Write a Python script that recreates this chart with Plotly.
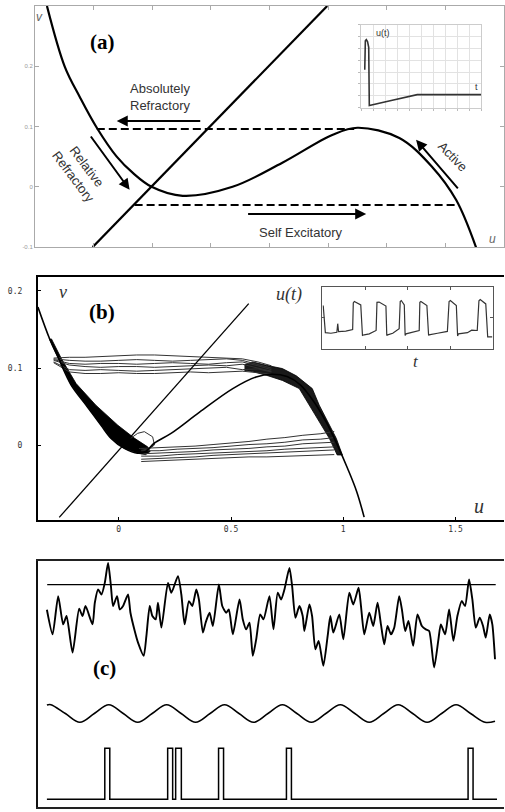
import plotly.graph_objects as go

W, H = 505, 812

# ---------------- Panel (a) data : FitzHugh-Nagumo schematic ----------------
a_cubic_u = [-0.359, -0.298, -0.247, -0.189, -0.121, -0.066, -0.002, 0.104, 0.274, 0.444, 0.614, 0.70, 0.843, 0.955, 1.037, 1.105]
a_cubic_v = [0.300, 0.199, 0.149, 0.098, 0.050, 0.023, 0.0, -0.015, 0.0, 0.040, 0.086, 0.098, 0.081, 0.033, -0.022, -0.101]
a_line_u = [-0.203, 0.597]
a_line_v = [-0.1, 0.3]
a_dash_hi_u = [-0.189, 0.689]
a_dash_hi_v = [0.096, 0.096]
a_dash_lo_u = [-0.06, 1.037]
a_dash_lo_v = [-0.030, -0.030]
a_yticks = [-0.1, 0, 0.1, 0.2]
a_ytick_text = ["-0.1", "0", "0.1", "0.2"]
a_xticks = [-0.2, 0, 0.2, 0.4, 0.6, 0.8, 1.0]

# inset (a): single action potential
ia_t = [0.29, 0.29, 0.34, 0.42, 0.52, 0.62, 0.67, 2.5, 4.17, 4.67, 10]
ia_u = [3.2, 5.3, 5.65, 5.75, 5.6, 5.1, 0.17, 0.6, 1.0, 1.1, 1.1]

# ---------------- Panel (b) data : noisy phase portrait ----------------
b_cub_u = [-0.36, -0.308, -0.271, -0.212, -0.145, -0.079, -0.034, 0.025, 0.084, 0.12, 0.159, 0.233, 0.36, 0.508, 0.612, 0.68, 0.75, 0.81, 0.87, 0.923, 0.967, 1.019, 1.06, 1.093]
b_cub_v = [0.179, 0.138, 0.1145, 0.078, 0.052, 0.026, 0.009, -0.004, -0.0103, -0.008, 0.003, 0.0155, 0.043, 0.0735, 0.0886, 0.092, 0.089, 0.078, 0.056, 0.0306, 0.0048, -0.0297, -0.06, -0.093]
b_line_u = [-0.265, 0.579]
b_line_v = [-0.0933, 0.1835]

# dense noisy bands along the stable branches
lb_u = [-0.31, -0.271, -0.212, -0.145, -0.079, -0.034, 0.025, 0.084, 0.12, 0.14, 0.129, 0.071, -0.004, -0.102, -0.19, -0.255, -0.30]
lb_v = [0.138, 0.1145, 0.078, 0.052, 0.026, 0.009, -0.004, -0.0103, -0.012, -0.008, -0.002, 0.009, 0.026, 0.052, 0.08, 0.112, 0.138]
rb_u = [0.56, 0.596, 0.658, 0.729, 0.791, 0.862, 0.893, 0.929, 0.969, 0.996, 0.973, 0.938, 0.893, 0.849, 0.804, 0.729, 0.658, 0.596, 0.56]
rb_v = [0.1045, 0.108, 0.1036, 0.0994, 0.090, 0.0735, 0.052, 0.031, 0.009, -0.0125, -0.0125, 0.009, 0.031, 0.052, 0.0735, 0.084, 0.0907, 0.0955, 0.097]

# upper (refractory) excursions
up_u = [-0.29, -0.22, -0.15, -0.08, 0.0, 0.08, 0.16, 0.24, 0.32, 0.40, 0.48, 0.55, 0.62, 0.68]
up_v1 = [0.113, 0.114, 0.114, 0.115, 0.116, 0.117, 0.117, 0.116, 0.115, 0.114, 0.113, 0.112, 0.108, 0.103]
up_v2 = [0.112, 0.110, 0.109, 0.109, 0.110, 0.111, 0.110, 0.109, 0.110, 0.111, 0.112, 0.110, 0.105, 0.100]
up_v3 = [0.111, 0.106, 0.105, 0.106, 0.106, 0.105, 0.106, 0.107, 0.106, 0.105, 0.107, 0.108, 0.103, 0.098]
up_v4 = [0.110, 0.104, 0.102, 0.101, 0.102, 0.102, 0.101, 0.102, 0.103, 0.104, 0.103, 0.105, 0.100, 0.096]
up_v5 = [0.108, 0.098, 0.097, 0.098, 0.097, 0.096, 0.097, 0.098, 0.099, 0.100, 0.101, 0.098, 0.099, 0.095]
up_v6 = [0.107, 0.095, 0.093, 0.093, 0.094, 0.093, 0.093, 0.094, 0.095, 0.094, 0.095, 0.096, 0.094, 0.092]

# lower (excitatory) excursions
lo_u = [0.10, 0.18, 0.26, 0.34, 0.42, 0.50, 0.58, 0.66, 0.74, 0.82, 0.90, 0.96]
lo_v1 = [-0.004, -0.003, -0.002, -0.001, 0.001, 0.003, 0.005, 0.008, 0.010, 0.013, 0.015, 0.018]
lo_v2 = [-0.007, -0.007, -0.005, -0.004, -0.003, -0.001, 0.001, 0.002, 0.004, 0.007, 0.008, 0.010]
lo_v3 = [-0.011, -0.010, -0.009, -0.008, -0.006, -0.005, -0.004, -0.002, -0.001, 0.002, 0.003, 0.004]
lo_v4 = [-0.014, -0.014, -0.012, -0.011, -0.010, -0.009, -0.008, -0.007, -0.005, -0.004, -0.003, -0.002]
lo_v5 = [-0.018, -0.017, -0.016, -0.015, -0.013, -0.012, -0.011, -0.010, -0.009, -0.008, -0.007, -0.006]
lo_v6 = [-0.021, -0.020, -0.019, -0.018, -0.017, -0.016, -0.015, -0.015, -0.014, -0.013, -0.012, -0.012]

loop_u = [0.053, 0.084, 0.114, 0.151, 0.159, 0.129, 0.09]
loop_v = [0.009, 0.0155, 0.0177, 0.011, 0.0004, -0.006, -0.004]

b_xticks = [0, 0.5, 1, 1.5]
b_xtick_text = ["0", "0.5", "1", "1.5"]
b_yticks = [0, 0.1, 0.2]
b_ytick_text = ["0", "0.1", "0.2"]

# inset (b): spike train u(t)
ib_t = [0.02, 0.07, 0.20, 0.34, 0.36, 0.38, 0.55, 0.71, 0.725, 0.75, 0.90, 0.94, 0.98, 1.10, 1.26, 1.28, 1.33, 1.49, 1.51, 1.53,
        1.65, 1.80, 1.825, 1.85, 1.92, 1.94, 1.96, 2.10, 2.27, 2.285, 2.31, 2.45, 2.49, 2.50, 2.70, 2.93, 2.97, 3.00, 3.14, 3.17,
        3.19, 3.40, 3.50, 3.63, 3.67, 3.70, 3.83, 3.875, 3.98]
ib_u = [1.40, 0.52, 0.50, 0.53, 0.81, 0.55, 0.57, 0.62, 1.48, 1.53, 1.42, 0.43, 0.45, 0.48, 0.59, 1.50, 1.51, 1.38, 0.43, 0.45,
        0.50, 0.645, 1.53, 1.56, 1.42, 0.43, 0.48, 0.52, 0.59, 1.50, 1.53, 1.40, 0.43, 0.45, 0.50, 0.56, 1.53, 1.56, 1.40, 0.41,
        0.48, 0.52, 0.60, 0.59, 1.55, 1.59, 1.45, 0.38, 0.38]

# ---------------- Panel (c) data : stochastic resonance ----------------
sig_t = [0, 5.7, 11.3, 16.3, 19.7, 25.7, 32.3, 35.7, 38.7, 45.7, 48, 51.3, 54.7, 58, 61.3, 64, 66.3, 70.3, 73, 76.3,
         81.3, 83.7, 88, 91.3, 97, 99.7, 103, 105.7, 109, 111.3, 114.7, 121.3, 124.7, 131.3, 134.7, 138, 142.3, 145.7, 149.7, 152.3,
         156.3, 159, 163, 166.3, 172.3, 175.7, 179.7, 182.3, 186.3, 193, 196.3, 199.7, 203, 206.3, 209.7, 213.7, 217, 223,
         227, 231.3, 234.7, 238, 243, 245.7, 249, 253, 256.3, 258, 263, 265.7, 269, 272.3, 277, 281.3, 284, 287, 293, 297,
         303, 307, 312.3, 314.7, 318, 323, 327, 331.3, 334.7, 338, 341.3, 344.7, 348, 353, 355.7, 359, 362.3, 367, 371.3,
         375.7, 379.7, 383, 388, 392.3, 394.7, 399, 403, 407.3, 411.3, 415.7, 419, 423, 426.3, 429.7, 433.7, 437, 439.7,
         443.7, 446.3, 449]
sig_y = [19.8, 17.33, 21.17, 18.33, 19.17, 15.5, 19.9, 19.17, 20.17, 18.33, 20.5, 21.83, 21.33, 22.5, 24.5, 22.33, 20.17, 21.17, 19.83, 20.17,
         21.33, 19.5, 17.67, 16.5, 15.17, 17.17, 20.17, 19.17, 18.83, 20.5, 18.0, 22.5, 21.5, 23.17, 21.33, 18.33, 20.67, 20.17, 21.83, 20.83,
         17.5, 18.5, 19.5, 18.17, 22.33, 20.17, 19.5, 19.83, 17.33, 20.83, 18.83, 17.83, 18.5, 15.17, 16.83, 19.33, 18.83, 21.17,
         17.83, 21.5, 20.83, 21.83, 24.0, 22.17, 19.0, 20.17, 19.17, 17.67, 20.33, 19.17, 15.83, 16.67, 14.17, 17.17, 19.17, 17.5, 19.33, 16.83,
         21.5, 20.33, 22.0, 20.17, 17.33, 19.5, 18.17, 20.5, 18.33, 16.33, 18.17, 17.33, 18.0, 21.17, 19.83, 17.67, 18.67, 16.17, 19.33,
         18.17, 17.83, 17.67, 14.0, 16.83, 18.33, 17.33, 19.83, 16.67, 19.17, 20.67, 20.17, 22.83, 20.83, 18.0, 19.0, 18.17, 17.0,
         19.33, 18.33, 14.83]
thr_t = [0.3, 449.7]
thr_y = [22.33, 22.33]

sine_t = [0, 4, 18.5, 33, 47.5, 62, 76.5, 91, 105.5, 120, 134.5, 149, 163.5, 178, 192.5, 207, 221.5, 236, 250.5, 265,
          279.5, 294, 308.5, 323, 337.5, 352, 366.5, 381, 395.5, 410, 424.5, 439, 449]
sine_y = [10.24, 10.27, 9.38, 8.5, 9.38, 10.27, 9.38, 8.5, 9.38, 10.27, 9.38, 8.5, 9.38, 10.27, 9.38, 8.5, 9.38, 10.27, 9.38, 8.5,
          9.38, 10.27, 9.38, 8.5, 9.38, 10.27, 9.38, 8.5, 9.38, 10.27, 9.38, 8.5, 8.6]

spike_on = [58, 121, 129, 172, 240, 422]
spike_off = [63, 126, 134.7, 177, 245, 427]
spike_base = 0.77
spike_top = 5.9
train_start, train_end = 0, 451

# build the spike-train polyline from the spike times
sp_t, sp_y = [train_start], [spike_base]
for on, off in zip(spike_on, spike_off):
    sp_t += [on, on, off, off]
    sp_y += [spike_base, spike_top, spike_top, spike_base]
sp_t.append(train_end)
sp_y.append(spike_base)

# ---------------- Figure ----------------
fig = go.Figure()


def add(x, y, xa, ya, color="black", width=2, dash=None, shape="linear", fill=None, fillcolor=None, smoothing=None):
    line = dict(color=color, width=width, dash=dash, shape=shape)
    if smoothing is not None:
        line["smoothing"] = smoothing
    fig.add_trace(go.Scatter(
        x=x, y=y, xaxis=xa, yaxis=ya, mode="lines", showlegend=False, hoverinfo="skip",
        line=line, fill=fill, fillcolor=fillcolor))


# panel (a)
add(a_cubic_u, a_cubic_v, "x", "y", width=2.2, shape="spline")
add(a_line_u, a_line_v, "x", "y", width=2.2)
add(a_dash_hi_u, a_dash_hi_v, "x", "y", width=2, dash="8px,4px")
add(a_dash_lo_u, a_dash_lo_v, "x", "y", width=2, dash="8px,4px")
add(ia_t, ia_u, "x2", "y2", color="#333", width=1.6)

# panel (b)
add(lb_u, lb_v, "x3", "y3", width=0.8, fill="toself", fillcolor="black")
add(rb_u, rb_v, "x3", "y3", width=0.8, fill="toself", fillcolor="rgba(0,0,0,0.9)")
for vv in [up_v1, up_v2, up_v3, up_v4, up_v5, up_v6]:
    add(up_u, vv, "x3", "y3", color="#333", width=1)
for vv in [lo_v1, lo_v2, lo_v3, lo_v4, lo_v5, lo_v6]:
    add(lo_u, vv, "x3", "y3", color="#333", width=1)
add(loop_u, loop_v, "x3", "y3", color="#333", width=1)
add(b_cub_u, b_cub_v, "x3", "y3", width=1.6, shape="spline")
add(b_line_u, b_line_v, "x3", "y3", width=1.3)
add(ib_t, ib_u, "x4", "y4", color="#333", width=1.2)

# panel (c)
add(sig_t, sig_y, "x5", "y5", width=1.9, shape="spline", smoothing=0.6)
add(thr_t, thr_y, "x5", "y5", width=1.2)
add(sine_t, sine_y, "x5", "y5", width=1.6, shape="spline")
add(sp_t, sp_y, "x5", "y5", width=1.5)


def px(a, b):
    return [a / W, b / W]


def py(top, bottom):
    return [1 - bottom / H, 1 - top / H]


GRAYTXT = "#333"
base_axis = dict(showgrid=False, zeroline=False, fixedrange=True)

layout = dict(
    width=W, height=H, margin=dict(l=0, r=0, t=0, b=0), autosize=False,
    paper_bgcolor="white", plot_bgcolor="white",
    # panel (a)
    xaxis=dict(base_axis, domain=px(35, 505), range=[-0.4, 1.2], anchor="y",
               showline=True, linecolor="#aaa", linewidth=1, mirror="ticks",
               ticks="inside", ticklen=4, tickcolor="#aaa", tickvals=a_xticks, showticklabels=False),
    yaxis=dict(base_axis, domain=py(6, 248), range=[-0.1, 0.3], anchor="x",
               showline=True, linecolor="#aaa", linewidth=1, mirror="ticks",
               ticks="inside", ticklen=4, tickcolor="#aaa", tickvals=a_yticks, ticktext=a_ytick_text,
               tickfont=dict(family="Liberation Sans", size=6, color="#999")),
    # inset (a)
    xaxis2=dict(base_axis, domain=px(362, 482), range=[0, 10], anchor="y2",
                showgrid=True, gridcolor="#e2e2e2", gridwidth=1, dtick=1, tick0=0,
                showline=True, linecolor="#ccc", mirror=True, ticks="outside", ticklen=2,
                tickcolor="#bbb", showticklabels=False),
    yaxis2=dict(base_axis, domain=py(25, 108), range=[0, 7], anchor="x2",
                showgrid=True, gridcolor="#e2e2e2", gridwidth=1, dtick=1, tick0=0,
                showline=True, linecolor="#ccc", mirror=True, ticks="outside", ticklen=2,
                tickcolor="#bbb", showticklabels=False),
    # panel (b)
    xaxis3=dict(base_axis, domain=px(38, 505), range=[-0.36, 1.716], anchor="y3",
                showline=True, linecolor="black", linewidth=2, mirror=True,
                ticks="inside", ticklen=3, tickcolor="black", tickvals=b_xticks, ticktext=b_xtick_text,
                tickfont=dict(family="DejaVu Sans Mono", size=8, color=GRAYTXT)),
    yaxis3=dict(base_axis, domain=py(278, 522), range=[-0.0968, 0.218], anchor="x3",
                showline=True, linecolor="black", linewidth=2,
                ticks="inside", ticklen=3, tickcolor="black", tickvals=b_yticks, ticktext=b_ytick_text,
                ticklabelstandoff=12,
                tickfont=dict(family="DejaVu Sans Mono", size=8, color=GRAYTXT)),
    # inset (b)
    xaxis4=dict(base_axis, domain=px(323, 494), range=[0, 4], anchor="y4",
                showline=True, linecolor="#555", linewidth=1, mirror="allticks",
                ticks="inside", ticklen=3, tickcolor="#555", tickvals=[1, 2, 3], showticklabels=False),
    yaxis4=dict(base_axis, domain=py(288, 350), range=[0, 2], anchor="x4",
                showline=True, linecolor="#555", linewidth=1, mirror="allticks",
                ticks="inside", ticklen=3, tickcolor="#555", tickvals=[1], showticklabels=False),
    # panel (c)
    xaxis5=dict(base_axis, domain=px(38, 505), range=[-9, 458], anchor="y5",
                showline=True, linecolor="#222", linewidth=2, mirror=True,
                ticks="", showticklabels=False),
    yaxis5=dict(base_axis, domain=py(563, 810), range=[0, 24.7], anchor="x5",
                showline=True, linecolor="#111", linewidth=2,
                ticks="", showticklabels=False),
)

SANS = "Liberation Sans"
SERIF = "Liberation Serif"


def txt(x, y, text, xref, yref, size, family=SANS, color=GRAYTXT, angle=0, **kw):
    return dict(x=x, y=y, xref=xref, yref=yref, text=text, showarrow=False,
                font=dict(family=family, size=size, color=color), textangle=angle, **kw)


def arrow(x0, y0, x1, y1, xref, yref):
    return dict(x=x1, y=y1, ax=x0, ay=y0, xref=xref, yref=yref, axref=xref, ayref=yref,
                text="", showarrow=True, arrowhead=2, arrowsize=1.1, arrowwidth=2,
                arrowcolor="black", standoff=0, startstandoff=0)


annotations = [
    # panel (a)
    txt(-0.169, 0.240, "<b>(a)</b>", "x", "y", 21, family=SERIF, color="black"),
    txt(-0.383, 0.282, "<i>v</i>", "x", "y", 12, color="#666"),
    txt(1.16, -0.086, "<i>u</i>", "x", "y", 12, color="#666"),
    txt(0.026, 0.149, "Absolutely<br>Refractory", "x", "y", 13),
    txt(0.509, -0.076, "Self Excitatory", "x", "y", 13),
    txt(-0.245, 0.025, "Relative<br>Refractory", "x", "y", 13, angle=53),
    txt(1.025, 0.050, "Active", "x", "y", 13, angle=46),
    arrow(0.169, 0.109, -0.121, 0.109, "x", "y"),
    arrow(-0.213, 0.086, -0.077, -0.005, "x", "y"),
    arrow(1.047, -0.005, 0.90, 0.078, "x", "y"),
    arrow(0.322, -0.045, 0.73, -0.045, "x", "y"),
    txt(1.1, 6.3, "u(t)", "x2", "y2", 9, xanchor="left"),
    txt(9.6, 1.75, "t", "x2", "y2", 9),
    # panel (b)
    txt(-0.076, 0.173, "<b>(b)</b>", "x3", "y3", 21, family=SERIF, color="black"),
    txt(-0.25, 0.199, "<i>v</i>", "x3", "y3", 18, family=SERIF),
    txt(0.76, 0.195, "<i>u(t)</i>", "x3", "y3", 18, family=SERIF),
    txt(1.324, 0.108, "<i>t</i>", "x3", "y3", 17, family=SERIF),
    txt(1.604, -0.079, "<i>u</i>", "x3", "y3", 20, family=SERIF),
    # panel (c)
    txt(58, 14.0, "<b>(c)</b>", "x5", "y5", 21, family=SERIF, color="black"),
]
layout["annotations"] = annotations

fig.update_layout(**layout)
fig.write_html(
    "out.html",
    config={"displayModeBar": False},
    post_script="document.body.style.margin='0';document.body.style.overflow='hidden';",
)
